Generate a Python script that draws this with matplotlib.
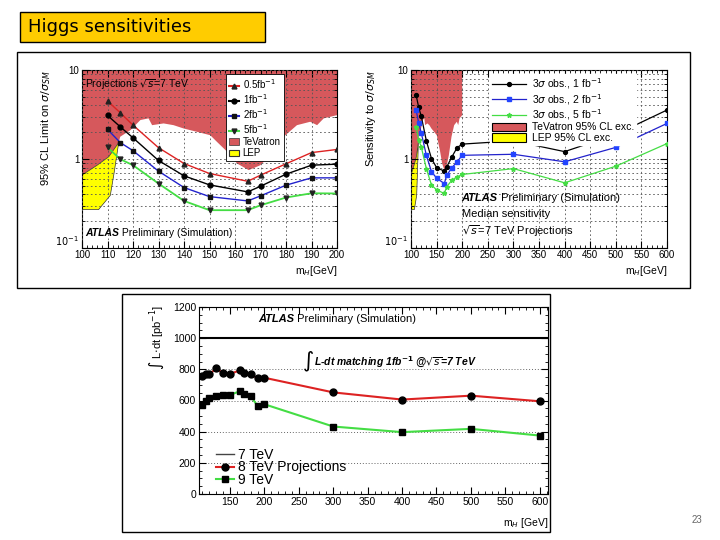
import matplotlib
matplotlib.use("Agg")
import matplotlib.pyplot as plt
from matplotlib.patches import Rectangle, Polygon, Patch
from matplotlib.lines import Line2D
from matplotlib.ticker import FixedLocator, MultipleLocator, LogLocator, NullFormatter, FixedFormatter
import numpy as np

plt.rcParams['font.family'] = ['Liberation Sans', 'DejaVu Sans']

# ---------------- data ----------------
title_text = "Higgs sensitivities"
page_number = "23"

# Left: 95% CL limit projections
m_left = [110, 115, 120, 130, 140, 150, 165, 170, 180, 190, 200]
lim_05 = [4.48, 3.31, 2.40, 1.34, 0.89, 0.687, 0.562, 0.658, 0.883, 1.18, 1.28]
lim_1 = [3.09, 2.30, 1.73, 0.962, 0.647, 0.512, 0.427, 0.494, 0.675, 0.852, 0.875]
lim_2 = [2.15, 1.53, 1.24, 0.730, 0.478, 0.378, 0.338, 0.385, 0.508, 0.614, 0.614]
lim_5 = [1.35, 0.995, 0.852, 0.530, 0.338, 0.266, 0.266, 0.302, 0.369, 0.412, 0.41]

# Tevatron exclusion lower boundary (m_H, sigma/sigma_SM)
tev_m = [100, 105.9, 110.5, 114.4, 115.0, 119.0, 122.9, 126.1, 127.5, 132.0, 135.9, 139.9,
         145.1, 150.3, 152.9, 156.9, 160.8, 165.4, 169.9, 173.9, 179.1, 184.3, 189.5, 192.2, 194.8, 200]
tev_lim = [0.66, 0.85, 1.06, 1.53, 1.78, 2.11, 2.74, 2.86, 2.40, 2.51, 2.40, 2.20,
           2.02, 1.85, 1.56, 1.21, 0.89, 0.75, 0.85, 1.10, 1.78, 2.40, 2.62, 2.40, 2.86, 3.11]
# LEP exclusion polygon
lep_m = [100, 105.9, 110.5, 114.4, 112.6, 111.1, 106.5, 100]
lep_lim = [0.66, 0.85, 1.06, 1.53, 0.70, 0.39, 0.27, 0.27]

# Right: 3 sigma sensitivity
m_right = [110, 115, 120, 130, 140, 150, 165, 170, 180, 190, 200, 300, 400, 500, 600]
sens_1 = [5.23, 3.80, 3.03, 1.60, 1.01, 0.80, 0.73, 0.82, 1.06, 1.34, 1.47, 1.60, 1.21, 1.89, 3.55]
sens_2 = [3.55, 2.55, 1.97, 1.10, 0.72, 0.61, 0.53, 0.66, 0.80, 0.93, 1.10, 1.13, 0.93, 1.35, 2.51]
sens_5 = [2.30, 1.63, 1.37, 0.78, 0.51, 0.45, 0.41, 0.49, 0.58, 0.63, 0.67, 0.78, 0.54, 0.83, 1.49]

# Bottom: integrated luminosity matching 1 fb-1 at 7 TeV
m_bottom = [110, 115, 120, 130, 140, 150, 165, 170, 180, 190, 200, 300, 400, 500, 600]
lumi_8 = [757, 768, 768, 806, 774, 770, 795, 778, 770, 742, 746, 652, 606, 631, 595]
lumi_9 = [571, 597, 618, 629, 635, 635, 661, 642, 629, 565, 576, 433, 397, 418, 375]
lumi_7 = 1000

TEV_RED = '#d6585c'
LEP_YEL = '#ffff00'
GRID_KW = dict(color='#555555', linestyle=(0, (2, 3)), linewidth=0.6)

W, H = 720, 540
fig = plt.figure(figsize=(7.2, 5.4), dpi=100)


def fbox(x0, y0, x1, y1):
    return [x0 / W, 1 - y1 / H, (x1 - x0) / W, (y1 - y0) / H]


# title box
fig.patches.append(Rectangle((20 / W, 1 - 42 / H), 245 / W, 30 / H, transform=fig.transFigure,
                             facecolor='#ffcc00', edgecolor='black', linewidth=1.0))
fig.text(28 / W, 1 - 27 / H, title_text, fontsize=13, family='DejaVu Sans', va='center', ha='left')

# frames
fig.patches.append(Rectangle((17 / W, 1 - 288 / H), 673 / W, 236 / H, transform=fig.transFigure,
                             facecolor='none', edgecolor='black', linewidth=1.0))
fig.patches.append(Rectangle((122 / W, 1 - 532 / H), 428 / W, 238 / H, transform=fig.transFigure,
                             facecolor='none', edgecolor='black', linewidth=1.0))
fig.text(697 / W, 1 - 520 / H, page_number, fontsize=7, color='#666666', ha='center', va='center')


def root_style(ax):
    ax.tick_params(which='both', direction='in', top=True, right=True, labelsize=7, pad=2)
    ax.tick_params(which='major', length=5)
    ax.tick_params(which='minor', length=2.5)
    for s in ax.spines.values():
        s.set_linewidth(0.8)


def atlas_label(ax, x, y, fs):
    t = ax.text(x, y, 'ATLAS', transform=ax.transAxes, fontsize=fs, fontweight='bold',
                fontstyle='italic', va='baseline', ha='left', zorder=6)
    ax.annotate(' Preliminary (Simulation)', xy=(1, 0), xycoords=t, fontsize=fs,
                va='bottom', ha='left', zorder=6)


def log_axis(ax):
    ax.yaxis.set_major_locator(FixedLocator([0.1, 1, 10]))
    ax.yaxis.set_major_formatter(FixedFormatter(['$10^{-1}$', '1', '10']))
    ax.yaxis.set_minor_locator(LogLocator(base=10, subs=np.arange(2, 10)))
    ax.yaxis.set_minor_formatter(NullFormatter())
    ax.yaxis.get_major_ticks()[0].label1.set_va('bottom')


# ---------------- left panel ----------------
axL = fig.add_axes(fbox(82, 70, 337, 248))
axL.set_yscale('log')
axL.set_xlim(100, 200)
axL.set_ylim(0.1, 10)
tev_poly = list(zip(tev_m, tev_lim)) + [(200, 10), (100, 10)]
axL.add_patch(Polygon(tev_poly, closed=True, facecolor=TEV_RED, edgecolor='none', zorder=0.5))
axL.add_patch(Polygon(list(zip(lep_m, lep_lim)), closed=True, facecolor=LEP_YEL,
                      edgecolor='#333333', linewidth=0.5, zorder=0.6))
axL.plot(m_left, lim_05, color='#dd2222', lw=1.0, marker='^', ms=3.5, mfc='#222222', mec='#222222', zorder=3)
axL.plot(m_left, lim_1, color='black', lw=1.0, marker='o', ms=3.5, mfc='black', mec='black', zorder=3)
axL.plot(m_left, lim_2, color='#2222cc', lw=1.0, marker='s', ms=3.5, mfc='#111111', mec='#111111', zorder=3)
axL.plot(m_left, lim_5, color='#44dd44', lw=1.3, marker='v', ms=3.5, mfc='#222222', mec='#222222', zorder=3)
root_style(axL)
axL.tick_params(axis='x', pad=1.5)
axL.xaxis.set_major_locator(MultipleLocator(10))
axL.xaxis.set_minor_locator(MultipleLocator(2))
log_axis(axL)
axL.set_axisbelow(False)
axL.xaxis.grid(True, which='major', **GRID_KW)
axL.yaxis.grid(True, which='both', **GRID_KW)
axL.set_ylabel(r'95% CL Limit on $\sigma/\sigma_{SM}$', fontsize=8, loc='top')
axL.yaxis.set_label_coords(-0.115, 1.0)
axL.set_xlabel(r'm$_H$[GeV]', fontsize=7.5, loc='right', labelpad=3)
axL.text(0.012, 0.915, r'Projections $\sqrt{s}$=7 TeV', transform=axL.transAxes, fontsize=7.5,
         va='center', ha='left', zorder=6)
atlas_label(axL, 0.012, 0.065, 7.5)
hL = [Line2D([], [], color='#dd2222', marker='^', ms=3.5, mfc='#222222', mec='#222222'),
      Line2D([], [], color='black', marker='o', ms=3.5),
      Line2D([], [], color='#2222cc', marker='s', ms=3.5, mfc='#111111', mec='#111111'),
      Line2D([], [], color='#44dd44', marker='v', ms=3.5, mfc='#222222', mec='#222222'),
      Patch(facecolor=TEV_RED, edgecolor='#333333', linewidth=0.5),
      Patch(facecolor=LEP_YEL, edgecolor='#333333', linewidth=0.8)]
legL = axL.legend(hL, ['0.5fb$^{-1}$', '1fb$^{-1}$', '2fb$^{-1}$', '5fb$^{-1}$', 'TeVatron', 'LEP'],
                  loc='upper left', bbox_to_anchor=(0.565, 0.975), fontsize=7, frameon=True,
                  fancybox=False, edgecolor='black', framealpha=1, handlelength=1.0,
                  handletextpad=0.4, labelspacing=0.12, borderpad=0.3, borderaxespad=0)
legL.get_frame().set_linewidth(0.6)
legL.set_zorder(7)

# ---------------- right panel ----------------
axR = fig.add_axes(fbox(411, 70, 667, 248))
axR.set_yscale('log')
axR.set_xlim(100, 600)
axR.set_ylim(0.1, 10)
axR.add_patch(Polygon(tev_poly, closed=True, facecolor=TEV_RED, edgecolor='none', zorder=0.5))
axR.add_patch(Polygon(list(zip(lep_m, lep_lim)), closed=True, facecolor=LEP_YEL,
                      edgecolor='#333333', linewidth=0.5, zorder=0.6))
axR.plot(m_right, sens_1, color='black', lw=0.9, marker='o', ms=2.8, zorder=3)
axR.plot(m_right, sens_2, color='#2222cc', lw=0.9, marker='s', ms=3.2, mfc='#2244ff', mec='#2244ff', zorder=3)
axR.plot(m_right, sens_5, color='#44dd44', lw=0.9, marker='*', ms=3.5, zorder=3)
root_style(axR)
axR.tick_params(axis='x', pad=1.5)
axR.xaxis.set_major_locator(MultipleLocator(50))
axR.xaxis.set_minor_locator(MultipleLocator(10))
log_axis(axR)
axR.set_axisbelow(False)
axR.xaxis.grid(True, which='major', **GRID_KW)
axR.yaxis.grid(True, which='both', **GRID_KW)
axR.set_ylabel(r'Sensitivity to $\sigma/\sigma_{SM}$', fontsize=8, loc='top')
axR.yaxis.set_label_coords(-0.13, 1.0)
axR.set_xlabel(r'm$_H$[GeV]', fontsize=7.5, loc='right', labelpad=3)
atlas_label(axR, 0.198, 0.265, 8)
axR.text(0.198, 0.19, 'Median sensitivity', transform=axR.transAxes, fontsize=8, va='center', zorder=6)
axR.text(0.198, 0.095, r'$\sqrt{s}$=7 TeV Projections', transform=axR.transAxes, fontsize=8,
         va='center', zorder=6)
hR = [Line2D([], [], color='black', lw=0.9, marker='o', ms=2.8),
      Line2D([], [], color='#2222cc', lw=0.9, marker='s', ms=3.2, mfc='#2244ff', mec='#2244ff'),
      Line2D([], [], color='#44dd44', lw=0.9, marker='*', ms=3.5),
      Patch(facecolor=TEV_RED, edgecolor='black', linewidth=0.8),
      Patch(facecolor=LEP_YEL, edgecolor='black', linewidth=0.8)]
legR = axR.legend(hR, [r'3$\sigma$ obs., 1 fb$^{-1}$', r'3$\sigma$ obs., 2 fb$^{-1}$',
                       r'3$\sigma$ obs., 5 fb$^{-1}$', 'TeVatron 95% CL exc.', 'LEP 95% CL exc.'],
                  loc='upper left', bbox_to_anchor=(0.31, 0.975), fontsize=7.5, frameon=True,
                  fancybox=False, edgecolor='white', facecolor='white', framealpha=1,
                  handlelength=3.2, handleheight=0.9, handletextpad=0.6, labelspacing=0.05,
                  borderpad=0.2, borderaxespad=0)
legR.set_zorder(7)

# ---------------- bottom panel ----------------
axB = fig.add_axes(fbox(199, 307, 548, 494))
axB.set_xlim(105, 612)
axB.set_ylim(0, 1200)
axB.axhline(lumi_7, color='black', lw=1.5, zorder=3)
axB.plot(m_bottom, lumi_8, color='#dd2222', lw=1.5, marker='o', ms=5, mfc='black', mec='black', zorder=3)
axB.plot(m_bottom, lumi_9, color='#44dd44', lw=1.5, marker='s', ms=5, mfc='black', mec='black', zorder=3)
root_style(axB)
axB.tick_params(labelsize=7.5)
axB.xaxis.set_major_locator(FixedLocator(list(range(150, 601, 50))))
axB.xaxis.set_minor_locator(MultipleLocator(10))
axB.yaxis.set_major_locator(MultipleLocator(200))
axB.yaxis.set_minor_locator(MultipleLocator(50))
axB.yaxis.grid(True, which='major', color='#666666', linestyle=(0, (1, 2)), linewidth=0.7)
axB.set_ylabel(r'$\int$ L$\cdot$dt [pb$^{-1}$]', fontsize=8, loc='top')
axB.yaxis.set_label_coords(-0.095, 1.01)
axB.set_xlabel(r'm$_H$ [GeV]', fontsize=7.5, loc='right', labelpad=7)
atlas_label(axB, 0.17, 0.92, 8)
axB.text(0.295, 0.705, r'$\int$', transform=axB.transAxes, fontsize=11, va='center', ha='left')
axB.text(0.33, 0.705, r'L-dt matching 1fb$^{\mathbf{-1}}$ @$\sqrt{s}$=7 TeV', transform=axB.transAxes,
         fontsize=7.5, fontweight='bold', fontstyle='italic', va='center', ha='left')
hB = [Line2D([], [], color='#444444', lw=1.0),
      Line2D([], [], color='#dd2222', lw=1.5, marker='o', ms=5, mfc='black', mec='black'),
      Line2D([], [], color='#44dd44', lw=1.5, marker='s', ms=5, mfc='black', mec='black')]
axB.legend(hB, ['7 TeV', '8 TeV Projections', '9 TeV'], loc='lower left', bbox_to_anchor=(0.046, 0.03),
           fontsize=10, frameon=False, handlelength=1.3, handletextpad=0.25, labelspacing=-0.1,
           borderaxespad=0, borderpad=0.1)

fig.savefig('out.png', dpi=100)
